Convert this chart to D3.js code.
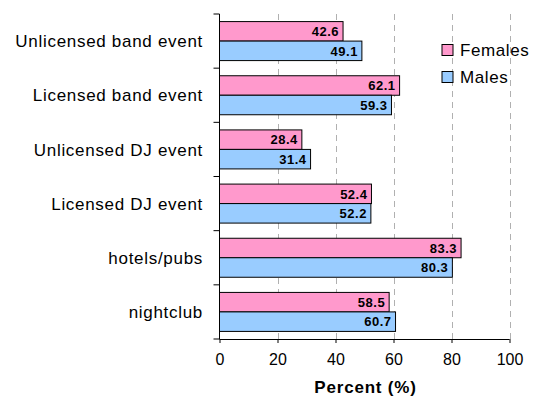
<!DOCTYPE html>
<html>
<head>
<meta charset="utf-8">
<script src="https://cdn.jsdelivr.net/npm/d3@7/dist/d3.min.js"></script>
<style>
  html, body { margin: 0; padding: 0; background: #fff; }
  svg { display: block; font-family: Arial, "Liberation Sans", sans-serif; }
</style>
</head>
<body>
<svg id="chart" width="533" height="396"></svg>
<script>
const categories = ["Unlicensed band event", "Licensed band event", "Unlicensed DJ event",
                    "Licensed DJ event", "hotels/pubs", "nightclub"];
const females = [42.6, 62.1, 28.4, 52.4, 83.3, 58.5];
const males   = [49.1, 59.3, 31.4, 52.2, 80.3, 60.7];
const seriesNames = ["Females", "Males"];
const seriesColors = ["#FF99CC", "#99CCFF"];
const xTicks = [0, 20, 40, 60, 80, 100];

const svg = d3.select("#chart");
const margin = { left: 219.5, right: 23.5, top: 14, bottom: 57 };
const W = 533, H = 396;

const x = d3.scaleLinear().domain([0, 100]).range([margin.left, W - margin.right]);
const y = d3.scaleBand().domain(categories).range([margin.top, H - margin.bottom])
  .paddingInner(0.28).paddingOuter(0.14);
const sub = d3.scaleBand().domain(seriesNames).range([0, y.bandwidth()]);

// dashed vertical gridlines
svg.append("g").selectAll("line").data(xTicks.slice(1)).join("line")
  .attr("x1", d => Math.round(x(d)) + 0.5).attr("x2", d => Math.round(x(d)) + 0.5)
  .attr("y1", margin.top).attr("y2", H - margin.bottom)
  .attr("stroke", "#b0b0b0").attr("stroke-width", 1).attr("stroke-dasharray", "6,5");

const rows = categories.map((c, i) => ({ c, vals: [females[i], males[i]] }));

const g = svg.append("g").selectAll("g").data(rows).join("g")
  .attr("transform", d => `translate(0,${y(d.c)})`);

g.selectAll("rect").data(d => d.vals.map((v, k) => ({ v, k }))).join("rect")
  .attr("x", x(0))
  .attr("y", d => sub(seriesNames[d.k]))
  .attr("width", d => x(d.v) - x(0))
  .attr("height", sub.bandwidth())
  .attr("fill", d => seriesColors[d.k])
  .attr("stroke", "#000").attr("stroke-width", 1);

g.selectAll("text").data(d => d.vals.map((v, k) => ({ v, k }))).join("text")
  .attr("x", d => x(d.v) - 4)
  .attr("y", d => sub(seriesNames[d.k]) + sub.bandwidth() / 2)
  .attr("dy", "0.36em")
  .attr("text-anchor", "end")
  .attr("font-size", 13).attr("font-weight", "bold").attr("letter-spacing", 0.5)
  .text(d => d.v.toFixed(1));

// category axis
const yBounds = d3.range(categories.length + 1).map(i => margin.top + i * (H - margin.bottom - margin.top) / categories.length);
const axisY = svg.append("g");
axisY.append("line").attr("x1", x(0)).attr("x2", x(0))
  .attr("y1", margin.top).attr("y2", H - margin.bottom).attr("stroke", "#000");
axisY.selectAll("line.t").data(yBounds).join("line").attr("class", "t")
  .attr("x1", x(0) - 6).attr("x2", x(0)).attr("y1", d => d).attr("y2", d => d)
  .attr("stroke", "#000");
axisY.selectAll("text").data(categories).join("text")
  .attr("x", 203).attr("y", d => y(d) + y.bandwidth() / 2).attr("dy", "0.36em")
  .attr("text-anchor", "end").attr("font-size", 17).attr("letter-spacing", 0.7).text(d => d);

// value axis
const axisX = svg.append("g").attr("transform", `translate(0,${H - margin.bottom})`)
  .call(d3.axisBottom(x).tickValues(xTicks).tickSize(4).tickPadding(11));
axisX.select(".domain").attr("d", `M${x(0)},0.5H${x(100)}`).attr("stroke", "#000");
axisX.selectAll(".tick line").attr("stroke", "#000");
axisX.selectAll(".tick text").attr("font-size", 16).attr("font-family", "Arial, 'Liberation Sans', sans-serif").attr("fill", "#000");

svg.append("text").attr("x", x(50) + 1).attr("y", 393).attr("text-anchor", "middle")
  .attr("font-size", 17).attr("font-weight", "bold").attr("letter-spacing", 0.8).text("Percent (%)");

// legend
const leg = svg.append("g").attr("transform", "translate(441.5,44)");
seriesNames.forEach((n, i) => {
  leg.append("rect").attr("x", 0.5).attr("y", i * 27 + 0.5).attr("width", 11).attr("height", 11)
    .attr("fill", seriesColors[i]).attr("stroke", "#000");
  leg.append("text").attr("x", 18.5).attr("y", i * 27 + 6).attr("dy", "0.36em")
    .attr("font-size", 17).attr("letter-spacing", 0.6).text(n);
});
</script>
</body>
</html>
